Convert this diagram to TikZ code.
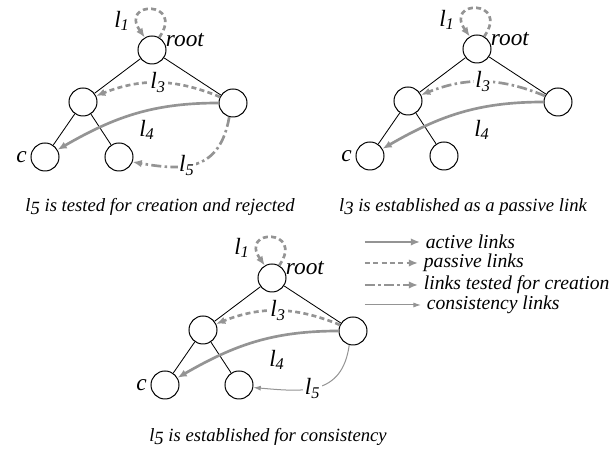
\documentclass[tikz,border=0pt]{standalone}
\usepackage{fontspec}
\setmainfont{Liberation Serif}
\usetikzlibrary{arrows.meta,positioning}
\definecolor{linkgray}{gray}{0.58}
\newcommand{\osf}[1]{\raisebox{-.35ex}{#1}}

\begin{document}
\begin{tikzpicture}[x=0.6pt,y=-0.6pt,
  vertex/.style={draw,circle,line width=0.6pt,minimum size=16.8pt,inner sep=0pt},
  tree/.style={line width=0.5pt},
  link/.style={linkgray,line width=1.6pt,-{Latex[length=5.5pt,width=4.5pt]}},
  active/.style={link},
  passive/.style={link,dash pattern=on 3pt off 2pt},
  tested/.style={link,dash pattern=on 6pt off 2pt on 1.5pt off 2pt},
  consistent/.style={linkgray,line width=0.6pt,-{Latex[length=4.5pt,width=3pt]}},
  selfloop/.style={passive,out=55,in=125,looseness=8},
  lbl/.style={font=\fontsize{14}{16}\selectfont\itshape,text=black,inner sep=1pt},
  note/.style={font=\fontsize{11.8}{14}\selectfont\itshape,text=black},
  caption/.style={font=\fontsize{11.2}{14}\selectfont\itshape}
]
  \useasboundingbox (0,0) rectangle (615,459);

  % l5 tested and rejected
  \node[vertex] (root1) at (152,50) {};
  \node[vertex] (left1) at (83,102) {};
  \node[vertex] (right1) at (233,103) {};
  \node[vertex] (c1) at (45,157) {};
  \node[vertex] (d1) at (119,157) {};
  \draw[tree] (root1) -- (left1) (root1) -- (right1) (left1) -- (c1) (left1) -- (d1);
  \node[lbl,right=1pt of root1.north east] (rootname1) {root};
  \node[lbl,left=1pt of c1] (cname1) {c};
  \draw[selfloop] (root1.60) to (root1.120);
  \node[lbl] (lone1) at (122,21) {l\textsubscript{1}};
  \draw[passive] (right1.155) to[bend right=22] node[lbl,fill=white] (lthree1) {l\textsubscript{3}} (left1.25);
  \draw[active] (right1.west) to[out=180,in=30] (c1.30);
  \node[lbl] (lfour1) at (147,130) {l\textsubscript{4}};
  \draw[tested] (right1.255) to[out=260,in=-10,looseness=1.3] node[lbl,fill=white,pos=.6] (lfive1) {l\textsubscript{5}} (d1.-20);
  \node[caption] (cap1) at (160,207) {l\osf{5} is tested for creation and rejected};

  % l3 established as passive
  \node[vertex] (root2) at (477,49) {};
  \node[vertex] (left2) at (408,101) {};
  \node[vertex] (right2) at (558,102) {};
  \node[vertex] (c2) at (370,156) {};
  \node[vertex] (d2) at (444,156) {};
  \draw[tree] (root2) -- (left2) (root2) -- (right2) (left2) -- (c2) (left2) -- (d2);
  \node[lbl,right=1pt of root2.north east] (rootname2) {root};
  \node[lbl,left=1pt of c2] (cname2) {c};
  \draw[selfloop] (root2.60) to (root2.120);
  \node[lbl] (lone2) at (447,20) {l\textsubscript{1}};
  \draw[tested] (right2.155) to[bend right=22] node[lbl,fill=white] (lthree2) {l\textsubscript{3}} (left2.25);
  \draw[active] (right2.west) to[out=180,in=30] (c2.30);
  \node[lbl] (lfour2) at (482,130) {l\textsubscript{4}};
  \node[caption] (cap2) at (463,207) {l\osf{3} is established as a passive link};

  % l5 established for consistency
  \node[vertex] (root3) at (272,278) {};
  \node[vertex] (left3) at (203,330) {};
  \node[vertex] (right3) at (353,331) {};
  \node[vertex] (c3) at (165,385) {};
  \node[vertex] (d3) at (239,385) {};
  \draw[tree] (root3) -- (left3) (root3) -- (right3) (left3) -- (c3) (left3) -- (d3);
  \node[lbl,right=1pt of root3.north east] (rootname3) {root};
  \node[lbl,left=1pt of c3] (cname3) {c};
  \draw[selfloop] (root3.60) to (root3.120);
  \node[lbl] (lone3) at (242,248) {l\textsubscript{1}};
  \draw[passive] (right3.155) to[bend right=22] node[lbl,fill=white] (lthree3) {l\textsubscript{3}} (left3.25);
  \draw[active] (right3.west) to[out=180,in=30] (c3.30);
  \node[lbl] (lfour3) at (277,360) {l\textsubscript{4}};
  \draw[consistent] (right3.255) to[out=262,in=-5,looseness=1.25] node[lbl,fill=white,pos=.55] (lfive3) {l\textsubscript{5}} (d3.-10);
  \node[caption] (cap3) at (268,437) {l\osf{5} is established for consistency};

  % legend
  \node[note,anchor=west] (keyactive) at (420,242) {active links};
  \node[note,anchor=west] (keypassive) at (418,263) {passive links};
  \node[note,anchor=west] (keytested) at (418,285) {links tested for creation};
  \node[note,anchor=west] (keyconsistent) at (421,305) {consistency links};
  \coordinate (fromactive) at (365,242);
  \coordinate (frompassive) at (365,263);
  \coordinate (fromtested) at (365,285);
  \coordinate (fromconsistent) at (365,305);
  \draw[active] (fromactive) -- (keyactive);
  \draw[passive] (frompassive) -- (keypassive);
  \draw[tested] (fromtested) -- (keytested);
  \draw[consistent] (fromconsistent) -- (keyconsistent);
\end{tikzpicture}
\end{document}
